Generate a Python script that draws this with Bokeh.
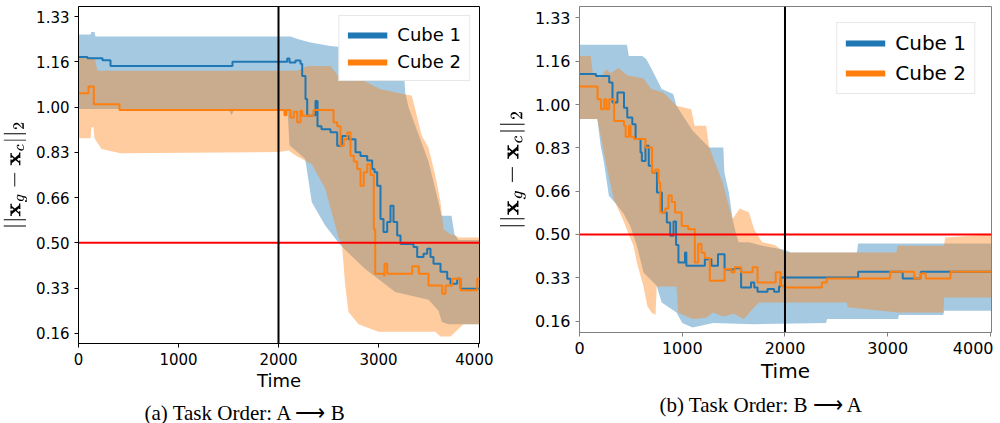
from bokeh.plotting import figure
from bokeh.models import Range1d, FixedTicker, CustomJSTickFormatter, Span, Legend, LegendItem
from bokeh.layouts import row
from bokeh.embed import file_html
from bokeh.resources import INLINE

BLUE = "#1f77b4"
ORANGE = "#ff7f0e"
NAN = float("nan")

series_names = ["Cube 1", "Cube 2"]
x_ticks = [0, 1000, 2000, 3000, 4000]
y_ticks = [0.16667, 0.33333, 0.5, 0.66667, 0.83333, 1.0, 1.16667, 1.33333]
y_tick_labels = ["0.16", "0.33", "0.50", "0.66", "0.83", "1.00", "1.16", "1.33"]
threshold = 0.5
switch_time = 2000
captions = ["(a) Task Order: A \u27f6 B", "(b) Task Order: B \u27f6 A"]
x_label = "Time"
y_label = r"$$||\mathbf{x}_g - \mathbf{x}_c||_2$$"

# ---------------- (a) A -> B ----------------
a_c1_mean_t = [0, 90, 240, 320, 1540, 2087, 2110, 2170, 2220, 2237, 2270, 2287, 2337, 2370, 2390, 2430, 2520, 2587, 2637, 2700, 2770, 2820, 2887, 2937, 2960, 2987, 3020, 3050, 3087, 3120, 3150, 3187, 3220, 3350, 3387, 3450, 3487, 3520, 3550, 3620, 3687, 3720, 3787, 3820, 4010]
a_c1_mean = [1.185, 1.18, 1.173, 1.152, 1.167, 1.179, 1.165, 1.172, 1.16, 1.115, 1.03, 0.968, 0.97, 1.023, 0.93, 0.919, 0.908, 0.858, 0.894, 0.882, 0.834, 0.82, 0.803, 0.772, 0.76, 0.71, 0.588, 0.54, 0.577, 0.637, 0.577, 0.527, 0.496, 0.485, 0.448, 0.46, 0.478, 0.448, 0.423, 0.393, 0.368, 0.349, 0.368, 0.331, 0.333]
a_c2_mean_t = [0, 100, 153, 410, 2060, 2080, 2120, 2153, 2187, 2220, 2237, 2350, 2550, 2587, 2620, 2653, 2687, 2720, 2753, 2787, 2820, 2853, 2887, 2920, 2953, 2967, 3053, 3060, 3087, 3337, 3403, 3500, 3587, 3637, 3670, 3737, 3820, 3987, 4010]
a_c2_mean = [1.051, 1.076, 1.011, 0.99, 0.97, 0.99, 0.962, 0.983, 0.944, 0.987, 0.968, 0.99, 0.944, 0.93, 0.858, 0.882, 0.907, 0.821, 0.80, 0.772, 0.71, 0.76, 0.79, 0.75, 0.55, 0.386, 0.38, 0.423, 0.386, 0.414, 0.386, 0.343, 0.343, 0.312, 0.343, 0.368, 0.325, 0.368, 0.368]

a_c1_up_t = [0, 120, 130, 160, 170, 2120, 2200, 2320, 2520, 3200, 3253, 3267, 3300, 3400, 3500, 3600, 3630, 3730, 3760, 3800, 4010]
a_c1_up = [1.268, 1.268, 1.277, 1.277, 1.26, 1.26, 1.25, 1.238, 1.225, 1.2, 1.15, 1.054, 1.0, 0.9, 0.8, 0.65, 0.6, 0.6, 0.53, 0.51, 0.51]
a_c1_lo_t = [0, 1500, 1530, 1560, 2090, 2110, 2267, 2333, 2467, 2600, 2650, 2867, 3167, 3500, 3600, 3633, 3700, 4010]
a_c1_lo = [0.993, 0.993, 0.97, 0.993, 0.99, 0.86, 0.809, 0.65, 0.564, 0.5, 0.48, 0.404, 0.319, 0.29, 0.25, 0.208, 0.2, 0.2]
a_c2_up_t = [0, 160, 190, 2187, 2290, 2520, 2620, 2750, 3020, 3333, 3433, 3500, 3567, 3620, 3650, 3730, 3760, 3800, 4010]
a_c2_up = [1.183, 1.183, 1.134, 1.134, 1.152, 1.152, 1.103, 1.117, 1.066, 1.042, 0.895, 0.85, 0.75, 0.65, 0.55, 0.53, 0.53, 0.52, 0.52]
a_c2_lo_t = [0, 120, 130, 150, 160, 230, 420, 2000, 2100, 2180, 2333, 2467, 2600, 2633, 2667, 2700, 2800, 3000, 3567, 3620, 3720, 3850, 4010]
a_c2_lo = [0.885, 0.885, 0.926, 0.926, 0.885, 0.846, 0.83, 0.835, 0.84, 0.82, 0.79, 0.7, 0.52, 0.5, 0.343, 0.245, 0.2, 0.172, 0.172, 0.155, 0.155, 0.2, 0.2]

# ---------------- (b) B -> A ----------------
b_c1_mean_t = [0, 160, 289, 321, 369, 433, 465, 514, 546, 594, 607, 642, 674, 706, 754, 802, 850, 883, 915, 940, 963, 1027, 1040, 1220, 1284, 1348, 1412, 1509, 1573, 1669, 1701, 1733, 1830, 1894, 1942, 1958, 2712, 3146, 3322, 4010]
b_c1_mean = [1.117, 1.11, 1.085, 1.008, 1.046, 0.988, 0.95, 0.924, 0.867, 0.815, 0.783, 0.841, 0.764, 0.738, 0.662, 0.585, 0.546, 0.495, 0.55, 0.46, 0.392, 0.431, 0.38, 0.405, 0.38, 0.424, 0.365, 0.37, 0.296, 0.315, 0.296, 0.28, 0.29, 0.28, 0.30, 0.335, 0.357, 0.331, 0.357, 0.357]
b_c2_mean_t = [0, 176, 209, 241, 263, 289, 337, 433, 449, 481, 498, 530, 642, 706, 738, 770, 786, 834, 866, 898, 930, 995, 1059, 1123, 1155, 1187, 1220, 1268, 1412, 1477, 1509, 1573, 1685, 1733, 1910, 1958, 1990, 2359, 2407, 3023, 3258, 3322, 3370, 3611, 4010]
b_c2_mean = [1.069, 1.02, 0.982, 1.02, 0.982, 1.02, 0.937, 0.918, 0.876, 0.918, 0.876, 0.867, 0.835, 0.738, 0.75, 0.70, 0.585, 0.60, 0.65, 0.625, 0.585, 0.533, 0.52, 0.392, 0.463, 0.43, 0.41, 0.322, 0.367, 0.355, 0.374, 0.355, 0.374, 0.315, 0.355, 0.303, 0.296, 0.315, 0.331, 0.357, 0.331, 0.35, 0.331, 0.357, 0.357]

b_c1_up_t = [0, 462, 480, 610, 650, 703, 800, 912, 944, 1100, 1262, 1400, 1410, 1455, 1490, 1520, 1550, 1650, 1778, 2003, 2055, 2700, 2712, 4010]
b_c1_up = [1.23, 1.23, 1.187, 1.187, 1.175, 1.136, 1.06, 1.04, 0.995, 0.9, 0.835, 0.835, 0.738, 0.66, 0.56, 0.508, 0.47, 0.47, 0.457, 0.44, 0.431, 0.431, 0.465, 0.465]
b_c1_lo_t = [0, 173, 206, 238, 286, 350, 430, 494, 559, 623, 751, 800, 944, 1000, 1100, 1300, 1700, 2400, 2410, 3100, 3110, 3540, 3550, 4010]
b_c1_lo = [0.944, 0.944, 0.841, 0.777, 0.649, 0.62, 0.58, 0.533, 0.456, 0.354, 0.303, 0.238, 0.2, 0.16, 0.142, 0.16, 0.155, 0.16, 0.175, 0.175, 0.19, 0.19, 0.207, 0.207]
b_c2_up_t = [0, 109, 130, 200, 260, 302, 380, 462, 623, 700, 815, 944, 1088, 1120, 1233, 1260, 1297, 1393, 1460, 1489, 1560, 1650, 1700, 1778, 1900, 2003, 3082, 3098, 3547, 3560, 4010]
b_c2_up = [1.187, 1.187, 1.12, 1.1, 1.136, 1.12, 1.14, 1.113, 1.1, 1.06, 1.046, 0.995, 0.982, 0.918, 0.918, 0.84, 0.8, 0.7, 0.6, 0.56, 0.6, 0.585, 0.52, 0.47, 0.46, 0.431, 0.431, 0.457, 0.457, 0.488, 0.5]
b_c2_lo_t = [0, 173, 206, 270, 334, 430, 526, 559, 623, 660, 700, 740, 751, 944, 960, 1100, 1233, 1300, 1400, 1500, 1600, 1700, 1750, 2600, 2610, 3100, 3540, 3550, 4010]
b_c2_lo = [0.944, 0.944, 0.88, 0.75, 0.636, 0.55, 0.456, 0.39, 0.3, 0.225, 0.2, 0.19, 0.3, 0.3, 0.2, 0.175, 0.18, 0.2, 0.185, 0.195, 0.175, 0.22, 0.238, 0.238, 0.22, 0.2, 0.2, 0.258, 0.258]


def band(p, t_up, v_up, t_lo, v_lo, color):
    xs = list(t_up) + list(reversed(t_lo))
    ys = list(v_up) + list(reversed(v_lo))
    p.patch(xs, ys, fill_color=color, fill_alpha=0.4, line_color=None)


def panel(caption, bands, means, cfg):
    p = figure(frame_width=cfg["fw"], frame_height=cfg["fh"],
               x_range=Range1d(0, 4010), y_range=Range1d(cfg["y0"], cfg["y1"]),
               output_backend="svg", toolbar_location=None,
               min_border_left=cfg["bl"], min_border_right=cfg["br"],
               min_border_top=cfg["bt"], min_border_bottom=cfg["bb"],
               title=caption, title_location="below")
    p.title.align = "left"
    p.title.offset = cfg["toff"]
    p.title.text_font = "Liberation Serif"
    p.title.text_font_style = "normal"
    p.title.text_font_size = "21px"
    p.title.text_color = "black"
    p.xgrid.visible = False
    p.ygrid.visible = False
    p.outline_line_color = cfg["ac"]
    p.outline_line_alpha = 1
    p.xaxis.ticker = FixedTicker(ticks=x_ticks)
    p.yaxis.ticker = FixedTicker(ticks=y_ticks)
    p.yaxis.formatter = CustomJSTickFormatter(args=dict(labels=y_tick_labels),
                                              code="return labels[Math.round(tick*6)-1];")
    for ax in (p.xaxis, p.yaxis):
        ax.axis_line_color = cfg["ac"]
        ax.major_tick_line_color = cfg["ac"]
        ax.minor_tick_line_color = None
        ax.major_tick_in = 0
        ax.major_tick_out = 4
        ax.major_label_text_font = "DejaVu Sans"
        ax.major_label_text_font_size = cfg["tfs"]
        ax.major_label_text_color = "black"
        ax.axis_label_text_font = "DejaVu Sans"
        ax.axis_label_text_font_style = "normal"
        ax.axis_label_text_font_size = cfg["lfs"]
        ax.axis_label_text_color = "black"
    p.xaxis.axis_label = x_label
    p.yaxis.axis_label = y_label
    p.xaxis.axis_label_standoff = 2
    p.yaxis.axis_label_standoff = 6

    colors = [BLUE, ORANGE]
    for (tu, vu, tl, vl), c in zip(bands, colors):
        band(p, tu, vu, tl, vl, c)

    p.add_layout(Span(location=threshold, dimension="width", line_color="red", line_width=2, level="glyph"))
    p.add_layout(Span(location=switch_time, dimension="height", line_color="black", line_width=2, level="glyph"))

    for (t, v), c in zip(means, colors):
        p.step(t, v, mode="after", line_color=c, line_width=2)

    items = []
    for name, c in zip(series_names, colors):
        r = p.line([NAN], [NAN], line_color=c, line_width=6)
        items.append(LegendItem(label=name, renderers=[r]))
    lg = Legend(items=items, location="top_right", margin=cfg["lm"],
                padding=cfg["lp"], spacing=cfg["ls"], glyph_width=40, glyph_height=20,
                label_standoff=10, label_text_font="DejaVu Sans",
                label_text_font_size=cfg["lgfs"], label_text_color="black", label_height=20,
                border_line_color="#d0d0d0", border_line_width=1,
                background_fill_color="white", background_fill_alpha=1.0)
    p.add_layout(lg)
    return p


pa = panel(captions[0],
           [(a_c1_up_t, a_c1_up, a_c1_lo_t, a_c1_lo), (a_c2_up_t, a_c2_up, a_c2_lo_t, a_c2_lo)],
           [(a_c1_mean_t, a_c1_mean), (a_c2_mean_t, a_c2_mean)],
           dict(fw=401, fh=337, y0=0.129, y1=1.371, bl=69, br=14, bt=0, bb=70, toff=66,
                ac="black", tfs="15px", lfs="18px", lm=9, lp=8, ls=6, lgfs="18px"))
pb = panel(captions[1],
           [(b_c1_up_t, b_c1_up, b_c1_lo_t, b_c1_lo), (b_c2_up_t, b_c2_up, b_c2_lo_t, b_c2_lo)],
           [(b_c1_mean_t, b_c1_mean), (b_c2_mean_t, b_c2_mean)],
           dict(fw=412, fh=326, y0=0.123, y1=1.377, bl=86, br=2, bt=6, bb=75, toff=80,
                ac="#808080", tfs="16px", lfs="20px", lm=16, lp=8, ls=6, lgfs="20px"))

layout = row(pa, pb)
open("out.html", "w").write(file_html(layout, INLINE))
